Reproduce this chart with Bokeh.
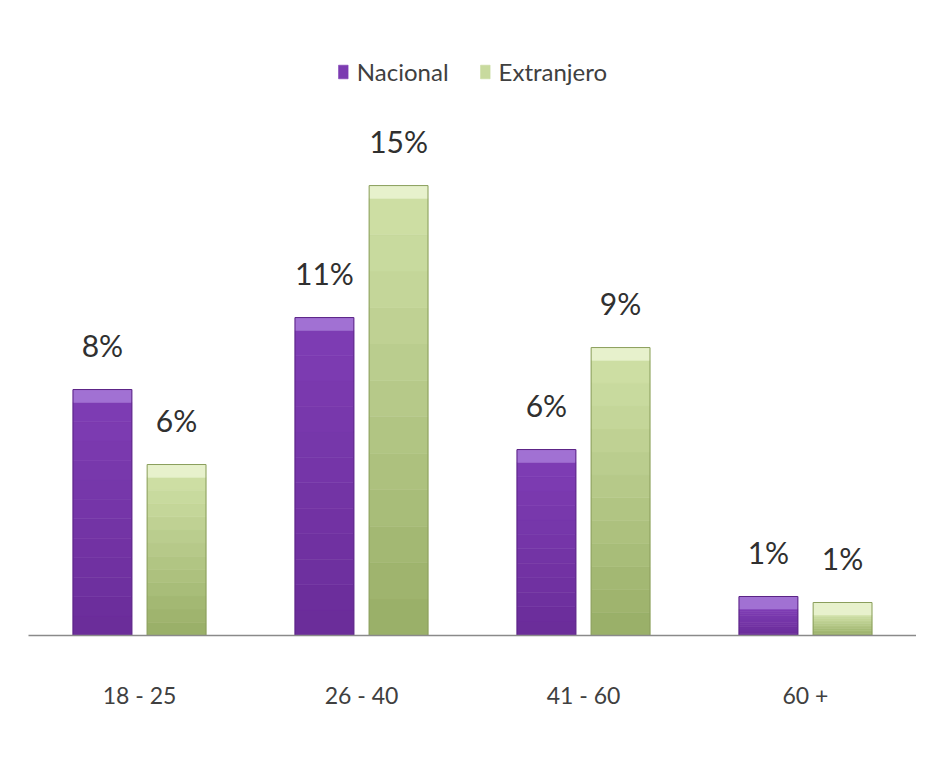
from bokeh.plotting import figure
from bokeh.models import ColumnDataSource, FactorRange, Legend, LegendItem, Range1d
from bokeh.transform import dodge
from bokeh.core.properties import value
from bokeh.embed import file_html
from bokeh.resources import INLINE

categories = ["18 - 25", "26 - 40", "41 - 60", "60 +"]
nacional = [8.2, 10.6, 6.2, 1.3]
extranjero = [5.7, 15.0, 9.6, 1.1]
nacional_labels = ["8%", "11%", "6%", "1%"]
extranjero_labels = ["6%", "15%", "9%", "1%"]
series_names = ["Nacional", "Extranjero"]

FONT = "Lato"
BAR_W = 0.265
OFFSETS = [-0.167, 0.167]
# (bottom colour, top colour, bevel colour, outline colour)
STYLES = [
    ("#6A2C99", "#7E3DB4", "#A171D3", "#5A2385"),
    ("#98AE66", "#CFE0A6", "#E7F1CC", "#8A9E5C"),
]
N_SEG = 12
BEVEL = 0.42


def mix(c1, c2, t):
    a = [int(c1[i:i + 2], 16) for i in (1, 3, 5)]
    b = [int(c2[i:i + 2], 16) for i in (1, 3, 5)]
    return "#%02x%02x%02x" % tuple(round(a[k] + (b[k] - a[k]) * t) for k in range(3))


p = figure(
    width=916, height=747,
    x_range=FactorRange(*categories, range_padding=0),
    y_range=Range1d(0, 19.57),
    output_backend="svg", toolbar_location=None,
    min_border_left=28, min_border_right=0,
    min_border_top=48, min_border_bottom=112,
    background_fill_color="white", border_fill_color="white",
)
p.outline_line_color = None
p.xgrid.grid_line_color = None
p.ygrid.grid_line_color = None
p.yaxis.visible = False
p.xaxis.axis_line_color = "#8A8A8A"
p.xaxis.axis_line_width = 1.6
p.xaxis.major_tick_line_color = None
p.xaxis.minor_tick_line_color = None
p.xaxis.major_label_standoff = 39
p.xaxis.major_label_text_font = FONT
p.xaxis.major_label_text_font_size = "23px"
p.xaxis.major_label_text_color = "#404040"

legend_items = []
for s, (vals, labs) in enumerate([(nacional, nacional_labels), (extranjero, extranjero_labels)]):
    bottom_c, top_c, bevel_c, line_c = STYLES[s]
    rows = dict(cat=[], bottom=[], top=[], color=[])
    for cat, v in zip(categories, vals):
        body_top = max(v - BEVEL, 0)
        for k in range(N_SEG):
            rows["cat"].append(cat)
            rows["bottom"].append(body_top * k / N_SEG)
            rows["top"].append(body_top * (k + 1) / N_SEG)
            rows["color"].append(mix(bottom_c, top_c, (k + 0.5) / N_SEG))
        rows["cat"].append(cat)
        rows["bottom"].append(body_top)
        rows["top"].append(v)
        rows["color"].append(bevel_c)
    src = ColumnDataSource(rows)
    bars = p.vbar(x=dodge("cat", OFFSETS[s], range=p.x_range), bottom="bottom", top="top",
                  width=BAR_W, source=src, fill_color="color", line_color="color", line_width=0.6)
    # outline
    osrc = ColumnDataSource(dict(cat=categories, top=vals))
    p.vbar(x=dodge("cat", OFFSETS[s], range=p.x_range), bottom=0, top="top",
           width=BAR_W, source=osrc, fill_alpha=0, line_color=line_c, line_width=1)
    # labels
    lsrc = ColumnDataSource(dict(cat=categories, y=vals, txt=labs))
    p.text(x=dodge("cat", OFFSETS[s], range=p.x_range), y="y", text="txt", source=lsrc,
           text_align="center", text_baseline="bottom", y_offset=-27,
           text_font=value(FONT), text_font_size="30px", text_color="#303030")
    legend_items.append(LegendItem(label=series_names[s], renderers=[bars], index=N_SEG - 2))

legend = Legend(items=legend_items, orientation="horizontal", location="top_center",
                border_line_color=None, background_fill_alpha=0,
                label_text_font=FONT, label_text_font_size="24px",
                label_text_color="#404040", glyph_width=12, glyph_height=17,
                spacing=30, margin=9, padding=4, label_standoff=8)
p.add_layout(legend, "center")

open("out.html", "w").write(file_html(p, INLINE))
